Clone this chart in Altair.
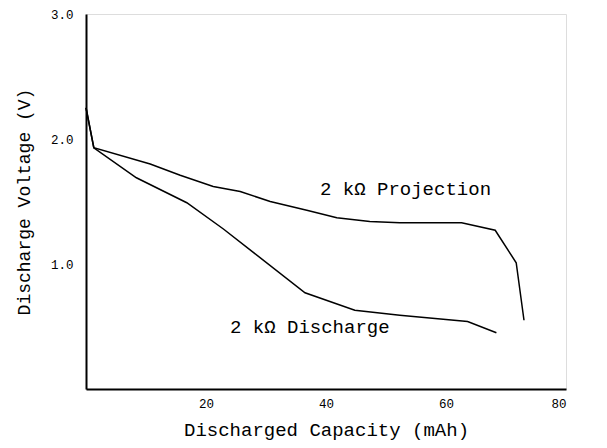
import altair as alt
import pandas as pd

# Data
proj_x = [0, 1.3, 10.7, 15.7, 21.2, 25.7, 30.7, 36.8, 41.8, 47.3, 52.3, 62.6, 68.2, 71.7, 73.0]
proj_y = [2.25, 1.93, 1.80, 1.71, 1.62, 1.58, 1.50, 1.43, 1.37, 1.34, 1.33, 1.33, 1.27, 1.01, 0.55]
dis_x = [0, 1.3, 8.4, 16.8, 22.9, 36.5, 44.8, 52.3, 63.6, 68.4]
dis_y = [2.25, 1.93, 1.69, 1.49, 1.28, 0.77, 0.63, 0.59, 0.54, 0.45]

label_text = ["2 kΩ Projection", "2 kΩ Discharge"]
label_x = [39.0, 24.0]
label_y = [1.60, 0.50]

x_ticks = [20, 40, 60, 80]
y_ticks = [1.0, 2.0, 3.0]

FONT = "Liberation Mono"

rows = []
for i, (x, y) in enumerate(zip(proj_x, proj_y)):
    rows.append({"series": "Projection", "order": i, "cap": x, "volt": y})
for i, (x, y) in enumerate(zip(dis_x, dis_y)):
    rows.append({"series": "Discharge", "order": i, "cap": x, "volt": y})
df = pd.DataFrame(rows)
labels = pd.DataFrame({"text": label_text, "cap": label_x, "volt": label_y})

xscale = alt.Scale(domain=[0, 80], nice=False, zero=True)
yscale = alt.Scale(domain=[0, 3], nice=False, zero=True)

lines = alt.Chart(df).mark_line(color="black", strokeWidth=1.5).encode(
    x=alt.X("cap:Q", scale=xscale,
            axis=alt.Axis(title="Discharged Capacity (mAh)", values=x_ticks, format="d",
                          ticks=False, grid=False, domainColor="black", domainWidth=2,
                          labelPadding=8, titlePadding=11, labelFont=FONT, titleFont=FONT,
                          labelFontSize=12.5, titleFontSize=19, titleFontWeight="normal",
                          labelColor="black", titleColor="black")),
    y=alt.Y("volt:Q", scale=yscale,
            axis=alt.Axis(title="Discharge Voltage (V)", values=y_ticks, format=".1f",
                          ticks=False, grid=False, domainColor="black", domainWidth=2,
                          labelPadding=13, titlePadding=17, labelFont=FONT, titleFont=FONT,
                          labelFontSize=12.5, titleFontSize=18, titleFontWeight="normal",
                          labelColor="black", titleColor="black")),
    detail="series:N",
    order="order:Q",
)

texts = alt.Chart(labels).mark_text(
    align="left", baseline="middle", font=FONT, fontSize=19, color="black"
).encode(
    x=alt.X("cap:Q", scale=xscale),
    y=alt.Y("volt:Q", scale=yscale),
    text="text:N",
)

chart = (lines + texts).properties(
    width=480, height=375,
    autosize=alt.AutoSizeParams(type="none"),
    padding={"left": 78, "top": 6, "right": 20, "bottom": 56},
).configure_view(stroke=None).configure(background="white")

chart.save("out.html", embed_options={"renderer": "svg", "actions": False})
